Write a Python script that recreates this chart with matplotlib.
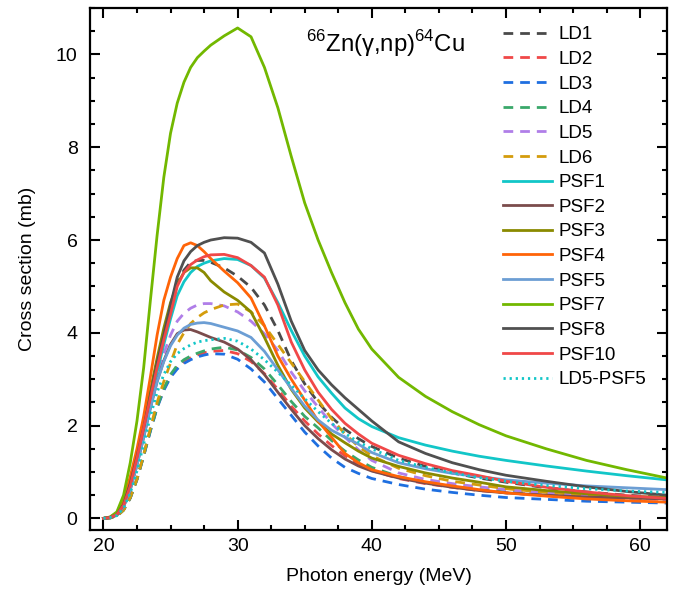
import matplotlib
matplotlib.use('Agg')
import matplotlib.pyplot as plt
from matplotlib.ticker import MultipleLocator

plt.rcParams['font.family'] = ['Liberation Sans', 'DejaVu Sans']
plt.rcParams['mathtext.fontset'] = 'custom'
plt.rcParams['mathtext.rm'] = 'Liberation Sans'

# photon energy grid (MeV)
energy = [20, 20.5, 21, 21.5, 22, 22.5, 23, 23.5, 24, 24.5, 25, 25.5, 26, 26.5, 27, 27.5, 28,
          29, 30, 31, 32, 33, 34, 35, 36, 37, 38, 39, 40,
          42, 44, 46, 48, 50, 53, 56, 59, 62]

# cross sections (mb) on the grid above
ld1 = [0, 0.02, 0.08, 0.3, 0.74, 1.35, 2.02, 2.7, 3.38, 4.0, 4.6, 5.05, 5.35, 5.52, 5.56, 5.56, 5.52,
       5.4, 5.22, 4.98, 4.6, 4.05, 3.4, 2.9, 2.5, 2.18, 1.92, 1.72, 1.55,
       1.3, 1.12, 0.98, 0.87, 0.78, 0.66, 0.57, 0.5, 0.45]
ld2 = [0, 0.01, 0.05, 0.18, 0.44, 0.84, 1.35, 1.9, 2.4, 2.78, 3.07, 3.26, 3.38, 3.46, 3.52, 3.57, 3.6,
       3.62, 3.55, 3.38, 3.12, 2.78, 2.42, 2.1, 1.82, 1.57, 1.35, 1.17, 1.03,
       0.86, 0.75, 0.67, 0.6, 0.55, 0.5, 0.46, 0.43, 0.41]
ld3 = [0, 0.01, 0.05, 0.18, 0.44, 0.84, 1.35, 1.88, 2.38, 2.76, 3.04, 3.22, 3.34, 3.42, 3.48, 3.52, 3.55,
       3.54, 3.43, 3.22, 2.94, 2.58, 2.22, 1.86, 1.56, 1.3, 1.1, 0.97, 0.86,
       0.73, 0.63, 0.56, 0.5, 0.45, 0.41, 0.37, 0.35, 0.33]
ld4 = [0, 0.01, 0.05, 0.18, 0.44, 0.84, 1.35, 1.9, 2.4, 2.8, 3.1, 3.3, 3.42, 3.5, 3.56, 3.61, 3.65,
       3.69, 3.63, 3.47, 3.22, 2.88, 2.52, 2.2, 1.95, 1.68, 1.45, 1.26, 1.1,
       0.9, 0.78, 0.69, 0.62, 0.57, 0.51, 0.47, 0.44, 0.42]
ld5 = [0, 0.02, 0.07, 0.26, 0.66, 1.22, 1.85, 2.5, 3.1, 3.55, 3.95, 4.25, 4.42, 4.53, 4.6, 4.63, 4.63,
       4.58, 4.45, 4.25, 3.98, 3.62, 3.15, 2.75, 2.4, 2.05, 1.75, 1.48, 1.25,
       0.98, 0.84, 0.75, 0.68, 0.62, 0.55, 0.49, 0.44, 0.4]
ld6 = [0, 0.01, 0.05, 0.18, 0.45, 0.85, 1.38, 1.95, 2.5, 2.95, 3.35, 3.75, 4.0, 4.2, 4.33, 4.43, 4.5,
       4.6, 4.62, 4.45, 4.15, 3.75, 3.35, 2.95, 2.55, 2.15, 1.82, 1.55, 1.35,
       1.08, 0.92, 0.8, 0.72, 0.64, 0.56, 0.5, 0.45, 0.42]
psf1 = [0, 0.02, 0.07, 0.26, 0.66, 1.22, 1.85, 2.5, 3.15, 3.75, 4.3, 4.8, 5.1, 5.3, 5.43, 5.5, 5.55,
        5.6, 5.58, 5.45, 5.18, 4.65, 4.05, 3.5, 3.05, 2.7, 2.38, 2.15, 1.98,
        1.74, 1.58, 1.45, 1.34, 1.25, 1.13, 1.02, 0.92, 0.83]
psf2 = [0, 0.02, 0.07, 0.25, 0.62, 1.15, 1.75, 2.38, 2.95, 3.4, 3.75, 3.98, 4.06, 4.07, 4.02, 3.96, 3.9,
        3.8, 3.65, 3.42, 3.1, 2.72, 2.35, 2.0, 1.72, 1.48, 1.28, 1.13, 1.02,
        0.87, 0.76, 0.67, 0.6, 0.55, 0.5, 0.46, 0.44, 0.42]
psf3 = [0, 0.02, 0.08, 0.3, 0.74, 1.35, 2.05, 2.75, 3.45, 4.1, 4.65, 5.05, 5.3, 5.4, 5.4, 5.3, 5.12,
        4.88, 4.7, 4.45, 3.9, 3.3, 2.78, 2.38, 2.08, 1.82, 1.63, 1.45, 1.3,
        1.12, 0.98, 0.87, 0.78, 0.68, 0.6, 0.53, 0.48, 0.45]
psf4 = [0, 0.03, 0.12, 0.4, 0.9, 1.5, 2.2, 3.05, 3.95, 4.7, 5.2, 5.6, 5.88, 5.94, 5.88, 5.75, 5.6,
        5.33, 5.08, 4.75, 4.15, 3.5, 3.0, 2.55, 2.1, 1.75, 1.4, 1.2, 1.05,
        0.9, 0.79, 0.7, 0.62, 0.55, 0.48, 0.42, 0.38, 0.35]
psf5 = [0, 0.02, 0.07, 0.25, 0.62, 1.15, 1.75, 2.38, 2.95, 3.38, 3.72, 3.95, 4.1, 4.18, 4.21, 4.22, 4.2,
        4.12, 4.04, 3.9, 3.6, 3.2, 2.8, 2.42, 2.12, 1.9, 1.75, 1.6, 1.42,
        1.2, 1.07, 0.97, 0.9, 0.83, 0.76, 0.7, 0.66, 0.62]
psf7 = [0, 0.03, 0.14, 0.5, 1.2, 2.1, 3.25, 4.7, 6.1, 7.35, 8.3, 8.95, 9.4, 9.72, 9.93, 10.07, 10.2,
        10.4, 10.57, 10.38, 9.72, 8.85, 7.8, 6.8, 6.0, 5.3, 4.65, 4.08, 3.65,
        3.04, 2.63, 2.3, 2.02, 1.78, 1.5, 1.25, 1.05, 0.87]
psf8 = [0, 0.02, 0.08, 0.3, 0.75, 1.33, 1.95, 2.65, 3.35, 3.95, 4.6, 5.2, 5.55, 5.75, 5.88, 5.95, 6.0,
        6.05, 6.04, 5.95, 5.72, 5.05, 4.25, 3.62, 3.2, 2.88, 2.6, 2.35, 2.1,
        1.65, 1.4, 1.2, 1.05, 0.93, 0.8, 0.68, 0.58, 0.5]
psf10 = [0, 0.02, 0.08, 0.28, 0.7, 1.3, 1.95, 2.6, 3.25, 3.85, 4.4, 5.0, 5.3, 5.47, 5.57, 5.64, 5.68,
         5.69, 5.62, 5.45, 5.2, 4.6, 3.8, 3.2, 2.72, 2.35, 2.05, 1.82, 1.62,
         1.36, 1.18, 1.03, 0.92, 0.8, 0.67, 0.57, 0.49, 0.43]
ld5_psf5 = [0, 0.02, 0.06, 0.22, 0.55, 1.02, 1.6, 2.2, 2.72, 3.1, 3.38, 3.55, 3.66, 3.74, 3.8, 3.83, 3.85,
            3.88, 3.82, 3.65, 3.42, 3.15, 2.87, 2.58, 2.3, 2.05, 1.83, 1.65, 1.5,
            1.25, 1.1, 0.98, 0.88, 0.8, 0.71, 0.64, 0.59, 0.56]

dash = (3.5, 2.5)
dot = (0.8, 1.4)

fig = plt.figure(figsize=(6.85, 5.99), dpi=100)
ax = fig.add_axes([0.1314, 0.1152, 0.8423, 0.8714])

ax.plot(energy, ld1, color='#4a4a4a', lw=2, dashes=dash, label='LD1')
ax.plot(energy, ld2, color='#f04848', lw=2, dashes=dash, label='LD2')
ax.plot(energy, ld3, color='#1f6fe0', lw=2, dashes=dash, label='LD3')
ax.plot(energy, ld4, color='#3aa86a', lw=2, dashes=dash, label='LD4')
ax.plot(energy, ld5, color='#b07ee8', lw=2, dashes=dash, label='LD5')
ax.plot(energy, ld6, color='#d49c0c', lw=2, dashes=dash, label='LD6')
ax.plot(energy, psf1, color='#12c6c8', lw=2, label='PSF1')
ax.plot(energy, psf2, color='#7b4c4c', lw=2, label='PSF2')
ax.plot(energy, psf3, color='#8a8a00', lw=2, label='PSF3')
ax.plot(energy, psf4, color='#ff6408', lw=2, label='PSF4')
ax.plot(energy, psf5, color='#6c9ed4', lw=2, label='PSF5')
ax.plot(energy, psf7, color='#72b800', lw=2, label='PSF7')
ax.plot(energy, psf8, color='#505050', lw=2, label='PSF8')
ax.plot(energy, psf10, color='#f04848', lw=2, label='PSF10')
ax.plot(energy, ld5_psf5, color='#12c6c8', lw=2, dashes=dot, label='LD5-PSF5')

ax.set_xlim(19, 62)
ax.set_ylim(-0.25, 11)
ax.xaxis.set_major_locator(MultipleLocator(10))
ax.xaxis.set_minor_locator(MultipleLocator(2.5))
ax.yaxis.set_major_locator(MultipleLocator(2))
ax.yaxis.set_minor_locator(MultipleLocator(0.5))
ax.tick_params(which='both', direction='in', top=True, right=True, width=1.5, labelsize=14)
ax.tick_params(which='major', length=7)
ax.tick_params(which='minor', length=3.5)
ax.tick_params(axis='x', which='major', pad=6)
ax.tick_params(axis='y', which='major', pad=9)
for sp in ax.spines.values():
    sp.set_linewidth(1.6)

ax.set_xlabel('Photon energy (MeV)', fontsize=14, labelpad=9)
ax.set_ylabel('Cross section (mb)', fontsize=14, labelpad=14)

ax.text(0.375, 0.915, r'$^{66}$Zn(γ,np)$^{64}$Cu', transform=ax.transAxes, fontsize=17.2)

ax.legend(loc='upper left', bbox_to_anchor=(0.716, 0.965), frameon=False, fontsize=13.5,
          handlelength=2.6, handletextpad=0.35, labelspacing=0.40, borderpad=0, borderaxespad=0)

fig.savefig('out.png', dpi=100)
